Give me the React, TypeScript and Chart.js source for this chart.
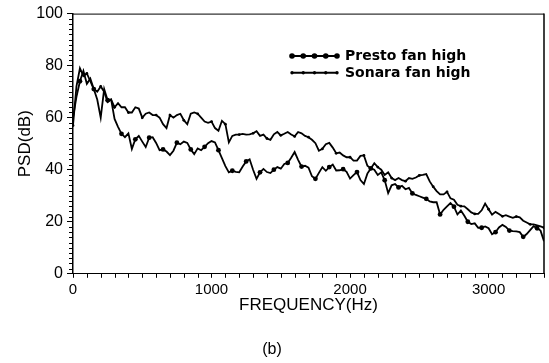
import React, { useEffect, useRef } from 'react';
import { Chart, registerables } from 'chart.js';

Chart.register(...registerables);

// Sample spacing of the PSD estimate (Hz)
const FREQ_STEP_HZ = 25;

// PSD (dB), one value every 25 Hz from 0 to 3400 Hz
const prestoFanHigh = [
  60, 68, 74, 78, 73, 75, 71, 67, 60, 71,
  66.7, 67, 59.5, 56.5, 53.8, 52.5, 54, 48, 51.7, 53,
  50.8, 48.7, 52.3, 52.5, 50.3, 47.5, 47.8, 47, 45.6, 47.3,
  50.4, 49.8, 50.8, 50.3, 47.8, 46, 48.2, 47.5, 48.8, 50.2,
  51, 50.5, 47.5, 44.5, 41.4, 39, 39.6, 39.2, 39, 41.2,
  43.2, 44, 40, 36.5, 39, 40.3, 39.1, 38.7, 40, 41,
  40.4, 42.2, 42.6, 44.6, 46.8, 43.8, 41.2, 41.5, 40.8, 37.5,
  36.5, 38.8, 41, 39.6, 41, 42, 39.7, 39.8, 40.2, 39.2,
  36.6, 37.9, 39.1, 36, 34.5, 38.5, 40.5, 40, 38, 39,
  36, 31, 34, 34.5, 33.2, 33.8, 32.5, 33, 30.9, 30.3,
  29.8, 29.3, 28.8, 27.8, 27.5, 27.5, 22.8, 24.6, 25.9, 27.2,
  25.8, 22.8, 24.3, 22.3, 20, 19.1, 19.4, 17.7, 17.7, 18.2,
  17.5, 15.2, 16, 17.8, 18.8, 18, 16.6, 16.4, 16.3, 16,
  14.2, 15.3, 16.8, 18.3, 17.5, 16.6, 12.5,
];

const sonaraFanHigh = [
  57, 72, 79, 76, 77, 74, 71, 70, 72, 70,
  66, 67, 64, 65.6, 64, 64, 62, 62, 64, 63.5,
  60, 61.5, 62, 61, 61, 60, 57.5, 56, 61, 60,
  61, 61.5, 59, 57.5, 61.5, 62, 61.5, 60, 58.5, 58,
  58.5, 56, 55, 58.8, 57.5, 50.5, 53, 53.5, 53.5, 53.8,
  53.5, 53.6, 54, 54.8, 53, 53.5, 52, 51.5, 53.6, 54.5,
  53.2, 53.8, 54.5, 53.5, 52.8, 54.5, 54, 53, 52.5, 51.5,
  50.2, 47.3, 48, 49.8, 50.3, 48.5, 46.3, 46.6, 45.5, 44.8,
  44.8, 43.5, 43.5, 45.3, 45.5, 41.5, 40.5, 42.5, 41, 40,
  38, 39, 36.8, 36, 36.8, 36, 35.6, 36.8, 36.5, 37,
  37.8, 38, 38.3, 35.5, 33.5, 31.8, 30.5, 30.5, 31.5, 29,
  28.5, 26.5, 26, 25.9, 24.8, 23.6, 23, 23, 24.4, 27,
  24.8, 22.7, 23.8, 23, 22.1, 22.5, 22, 21.5, 22, 21.7,
  20.4, 19.7, 19, 19, 18.6, 18.2, 17.7,
];

const SERIES_LABELS = ['Presto fan high', 'Sonara fan high'];
const X_TICKS = [0, 1000, 2000, 3000];
const Y_TICKS = [0, 20, 40, 60, 80, 100];
const X_MINOR_STEP = 100;
const Y_MINOR_STEP = 2;
const X_MAX = 3400;
const Y_MAX = 100;

const toPoints = (vals: number[]) => vals.map((y, i) => ({ x: i * FREQ_STEP_HZ, y }));

const decorPlugin = {
  id: 'decor',
  afterDraw(chart: any) {
    const { ctx, chartArea: a, scales } = chart;
    const xs = scales.x;
    const ys = scales.y;
    ctx.save();
    ctx.strokeStyle = '#000';
    // frame (top + right)
    ctx.lineWidth = 1;
    ctx.beginPath();
    ctx.moveTo(a.left, a.top + 0.5);
    ctx.lineTo(a.right, a.top + 0.5);
    ctx.stroke();
    ctx.lineWidth = 1.5;
    ctx.beginPath();
    ctx.moveTo(a.right, a.top);
    ctx.lineTo(a.right, a.bottom);
    ctx.stroke();
    // minor ticks
    ctx.lineWidth = 1;
    ctx.beginPath();
    for (let v = Y_MINOR_STEP; v < Y_MAX; v += Y_MINOR_STEP) {
      if (Y_TICKS.includes(v)) continue;
      const py = Math.round(ys.getPixelForValue(v)) + 0.5;
      ctx.moveTo(a.left - 4, py);
      ctx.lineTo(a.left, py);
    }
    for (let f = X_MINOR_STEP; f <= X_MAX; f += X_MINOR_STEP) {
      if (X_TICKS.includes(f)) continue;
      const px = Math.round(xs.getPixelForValue(f)) + 0.5;
      ctx.moveTo(px, a.bottom);
      ctx.lineTo(px, a.bottom + 4);
    }
    ctx.stroke();

    // legend with line + dot samples
    const lx0 = 292;
    const lx1 = 337;
    const ly0 = 56;
    const dy = 16.7;
    chart.data.datasets.forEach((ds: any, i: number) => {
      const y = ly0 + i * dy;
      ctx.lineWidth = 2;
      ctx.beginPath();
      ctx.moveTo(lx0, y);
      ctx.lineTo(lx1, y);
      ctx.stroke();
      const r = ds.legendDot;
      ctx.fillStyle = '#000';
      for (let k = 0; k < 5; k++) {
        const px = lx0 + ((lx1 - lx0) * k) / 4;
        ctx.beginPath();
        ctx.arc(px, y, r, 0, Math.PI * 2);
        ctx.fill();
      }
      ctx.font = 'bold 14px "DejaVu Sans"';
      ctx.textAlign = 'left';
      ctx.textBaseline = 'middle';
      ctx.fillText(ds.label, 345, y + 0.5);
    });
    ctx.restore();
  },
};

export default function App() {
  const ref = useRef<HTMLCanvasElement | null>(null);

  useEffect(() => {
    if (!ref.current) return;
    const chart = new Chart(ref.current, {
      type: 'line',
      data: {
        datasets: [
          {
            label: SERIES_LABELS[0],
            data: toPoints(prestoFanHigh),
            borderColor: '#000',
            backgroundColor: '#000',
            borderWidth: 1.8,
            pointRadius: (c: any) => (c.dataIndex % 4 === 2 ? 2.4 : 0),
            pointBackgroundColor: '#000',
            pointBorderWidth: 0,
            tension: 0,
            legendDot: 2.8,
          } as any,
          {
            label: SERIES_LABELS[1],
            data: toPoints(sonaraFanHigh),
            borderColor: '#000',
            backgroundColor: '#000',
            borderWidth: 1.8,
            pointRadius: (c: any) => (c.dataIndex % 4 === 0 ? 1.4 : 0),
            pointBackgroundColor: '#000',
            pointBorderWidth: 0,
            tension: 0,
            legendDot: 1.7,
          } as any,
        ],
      },
      options: {
        animation: false,
        responsive: false,
        devicePixelRatio: 1,
        layout: { padding: { left: 0, top: 12, right: 5, bottom: 0 } },
        plugins: {
          legend: { display: false },
          tooltip: { enabled: false },
          title: {
            display: true,
            position: 'bottom',
            text: '(b)',
            color: '#000',
            font: { family: '"Liberation Sans"', size: 16, weight: 'normal' },
            padding: { top: 0, bottom: 4 },
          },
        },
        scales: {
          x: {
            type: 'linear',
            min: 0,
            max: X_MAX,
            afterBuildTicks: (s: any) => {
              s.ticks = X_TICKS.map((v) => ({ value: v }));
            },
            afterFit: (s: any) => {
              s.height = 66;
            },
            grid: {
              display: true,
              drawOnChartArea: false,
              drawTicks: true,
              tickLength: 4,
              color: '#000',
            },
            border: { display: true, color: '#000', width: 1 },
            ticks: {
              color: '#000',
              padding: 3,
              maxRotation: 0,
              callback: (v: any) => String(v),
              font: { family: '"Liberation Sans"', size: 15 },
            },
            title: {
              display: true,
              text: 'FREQUENCY(Hz)',
              color: '#000',
              font: { family: '"Liberation Sans"', size: 17 },
              padding: { top: 0, bottom: 24 },
            },
          },
          y: {
            type: 'linear',
            min: 0,
            max: Y_MAX,
            afterBuildTicks: (s: any) => {
              s.ticks = Y_TICKS.map((v) => ({ value: v }));
            },
            afterFit: (s: any) => {
              s.width = 73;
            },
            grid: {
              display: true,
              drawOnChartArea: false,
              drawTicks: true,
              tickLength: 6,
              color: '#000',
            },
            border: { display: true, color: '#000', width: 1.5 },
            ticks: {
              color: '#000',
              padding: 4,
              callback: (v: any) => String(v),
              font: { family: '"Liberation Sans"', size: 16 },
            },
            title: {
              display: true,
              text: 'PSD(dB)',
              color: '#000',
              font: { family: '"Liberation Sans"', size: 17 },
              padding: { top: 15, bottom: 0 },
            },
          },
        },
      } as any,
      plugins: [decorPlugin],
    });
    return () => chart.destroy();
  }, []);

  return (
    <div style={{ position: 'absolute', left: 0, top: 0, width: 549, height: 363, background: '#fff' }}>
      <canvas ref={ref} width={549} height={363} />
    </div>
  );
}
